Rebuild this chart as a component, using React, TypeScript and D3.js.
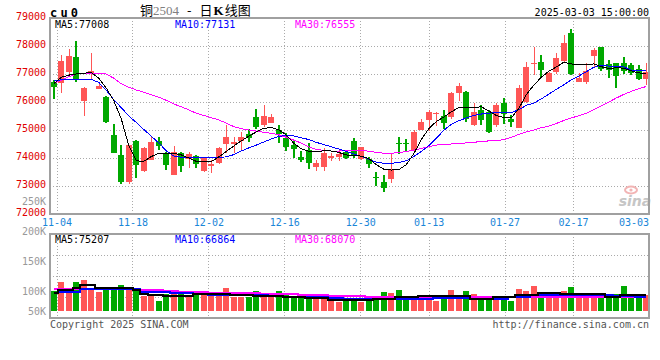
import React from "react";
import * as d3 from "d3";

// daily candles, cu0, 80 sessions ending 2025-03-03
const opens = [76730,76690,77060,77590,76050,76990,76480,76190,74820,74110,
  73150,74610,73540,73930,74610,74140,73390,74170,73950,74070,
  73550,73710,73810,74490,74490,74620,74870,75450,75170,75240,
  75000,74730,74460,74020,74290,73690,73690,74000,74050,74230,
  74610,73960,73960,73330,73150,73240,74550,74550,74290,75000,
  75360,75570,75500,75450,76310,76370,75180,75710,75660,75180,
  75980,75390,75080,76010,77370,77440,76730,77060,77460,78480,
  76730,76700,77640,77980,77360,77400,77400,77320,77170,76820];
const highs = [76790,77680,77880,78180,76520,77760,76700,76230,75210,74460,
  74230,74640,74400,74740,74760,74230,74430,74200,74230,74120,
  74000,73930,74380,75180,74760,74940,75020,75760,75890,75570,
  75180,74880,74640,74250,74550,73930,74350,74190,74290,74290,
  74730,74400,74050,73490,73390,74140,74740,74680,75000,75380,
  75710,75660,75710,76370,76690,76390,75950,75890,75710,75950,
  76130,75540,76600,77440,77980,77680,77080,77760,78390,78600,
  77020,77380,77920,77980,77500,77400,77620,77380,77320,77400];
const lows = [76100,76330,76990,76720,75500,76790,76480,75240,74190,73070,
  73070,73300,73500,73930,74290,73570,73390,73510,73630,73650,
  73500,73450,73800,74170,74190,74250,74580,75040,75120,75240,
  74520,74250,73990,73870,73610,73540,73540,73900,73890,73950,
  74000,73930,73630,73000,72770,73120,74130,74260,74230,75000,
  74960,75160,75020,75400,76040,75300,75150,75180,74900,75120,
  75200,75120,75060,75980,76960,76900,76700,77000,77400,76950,
  76700,76650,77260,77100,76850,76490,77000,76950,76800,76610];
const closes = [76520,77460,77640,76790,76500,77100,76580,75300,74190,73150,
  74450,73750,74370,74570,74430,73750,74200,73710,74140,73770,
  73990,73790,74360,74760,74560,74760,74730,75120,75500,75450,
  74860,74380,74320,73930,73830,73830,74190,74080,74140,73990,
  74080,74380,73770,73270,72920,73570,74490,74500,74940,75300,
  75660,75620,75240,76310,76580,75390,75630,75360,74940,75890,
  75560,75300,76510,77260,77410,77140,77020,77580,78120,77000,
  76870,77110,77860,77170,77140,76930,77120,77050,76830,77080];

const ma5 = [76650,76880,76960,77000,77030,77050,76850,76500,76050,75400,
  74450,73900,73880,74050,74170,74170,74170,74110,74000,73880,
  73880,73870,74040,74230,74430,74610,74780,74930,75060,75090,
  75010,74820,74530,74330,74240,74220,74260,74250,74200,74110,
  74080,74070,73980,73760,73600,73570,73580,73760,74150,74650,
  75050,75300,75460,75650,75800,75800,75800,75830,75680,75520,
  75450,75430,75760,76260,76600,76880,77100,77250,77420,77360,
  77330,77330,77360,77260,77200,77220,77210,77110,77040,77008];
const ma10 = [76760,76790,76800,76790,76800,76810,76700,76420,76080,75800,
  75500,75270,75020,74780,74540,74260,74070,74030,74020,74020,
  74020,74020,74020,74040,74120,74250,74360,74460,74570,74680,
  74770,74810,74790,74720,74660,74560,74480,74400,74320,74240,
  74150,74060,73960,73850,73810,73810,73840,73900,74050,74230,
  74440,74700,74990,75200,75330,75430,75520,75570,75600,75620,
  75630,75620,75720,75880,75960,76110,76280,76450,76610,76790,
  76930,77080,77240,77320,77280,77260,77260,77140,77110,77131];
const ma30 = [76670,76780,76900,77000,77020,77030,77030,77000,76850,76650,
  76530,76430,76350,76260,76170,76060,75930,75830,75720,75600,
  75520,75440,75360,75250,75120,75050,75000,74960,74920,74880,
  74830,74740,74640,74530,74400,74310,74270,74250,74250,74260,
  74280,74280,74240,74200,74170,74170,74190,74230,74280,74340,
  74400,74460,74490,74500,74520,74540,74560,74590,74610,74630,
  74650,74740,74840,74930,75000,75080,75140,75230,75340,75430,
  75510,75600,75720,75860,76000,76140,76270,76380,76470,76555];

// volume in thousand lots
const volumes = [95,139,99,139,147,112,91,110,110,123,
  112,103,72,72,47,84,95,84,72,84,
  91,91,84,110,67,67,67,95,84,71,
  95,75,62,64,75,64,64,48,43,47,
  62,43,71,56,91,86,99,71,71,71,
  71,47,56,99,75,95,80,60,60,67,
  67,47,104,95,119,84,84,84,95,115,
  84,67,67,67,67,80,119,75,75,79];
const volMa5 = [88,99,99,112,123,123,112,112,112,112,
  112,103,84,75,75,71,71,71,71,80,
  80,80,80,84,77,77,77,72,72,72,
  72,67,67,67,62,62,62,55,53,51,
  53,55,55,56,58,58,67,67,67,71,
  71,71,71,71,71,71,60,60,60,67,
  67,67,75,75,75,86,86,86,80,80,
  80,80,80,80,67,67,75,75,75,75];
const volMa10 = [88,91,91,91,108,108,106,106,106,106,
  106,104,91,91,91,91,88,86,86,84,
  84,79,79,79,79,79,79,79,79,72,
  72,67,67,67,67,67,67,62,61,60,
  60,58,58,58,59,60,60,60,60,60,
  60,62,62,62,62,62,60,60,60,60,
  60,67,67,67,75,75,75,75,75,75,
  75,79,79,79,79,72,72,72,67,67];
const volMa30 = [105,105,105,105,105,106,107,108,108,108,
  107,105,103,101,99,97,95,93,91,90,
  89,88,88,88,87,86,86,85,84,83,
  82,81,80,78,77,76,75,74,73,72,
  71,70,69,68,68,68,67,67,67,66,
  66,66,66,65,65,65,65,65,65,65,
  65,65,65,66,66,66,67,67,67,67,
  67,67,68,68,68,68,68,68,68,68];

const priceTicks = [79000, 78000, 77000, 76000, 75000, 74000, 73000, 72000];
const volTicks = [250000, 200000, 150000, 100000, 50000];
const dateLabels = ["11-04", "11-18", "12-02", "12-16", "12-30", "01-13", "01-27", "02-17", "03-03"];
const dateDays = [0, 10, 20, 30, 40, 49, 59, 68, 78];

const RED = "#ff5656";
const GREEN = "#00a800";
const GRID = "#aaaaaa";
const FRAME = "#a0a0a0";
const MONO = "'DejaVu Sans Mono', monospace";

export default function App() {
  const L = 50, R = 649;
  const pTop = 18, pBot = 214;
  const vTop = 234, vBot = 318, vBase = 311;

  const x = d3.scaleBand<number>().domain(d3.range(closes.length)).range([50, 650])
    .paddingInner(0.2).paddingOuter(0.1);
  const xc = (i: number) => (x(i) as number) + x.bandwidth() / 2;
  const xTick = d3.scaleLinear().domain([0, 79]).range([57, 657]);
  const y = d3.scaleLinear().domain([72000, 79000]).range([pBot, pTop]);
  const yv = d3.scaleLinear().domain([0, 150000]).range([vBase, vBase - 31.25]);
  const yvLabel = d3.scaleLinear().domain([0, 250000]).range([351, 201]);

  const priceLine = d3.line<number>().x((d, i) => xc(i)).y(d => y(d));
  const volLine = d3.line<number>().x((d, i) => xc(i)).y(d => yv(d * 1000)).curve(d3.curveStep);

  const vGrid = d3.range(1, 4).map(k => vTop + (vBot - vTop) * k / 4);

  return (
    <svg width={660} height={360} style={{ position: "absolute", left: 0, top: 0, background: "#fff" }}
      fontFamily={MONO}>
      {/* header */}
      <text x={50} y={13} fontSize={12} fontWeight="bold" letterSpacing={3.2} dominantBaseline="central">cu0</text>
      <text x={140} y={15} fontSize={13} fontFamily="'Noto Sans CJK SC', sans-serif">
        <tspan>铜</tspan>
        <tspan fill="#808080" fontFamily="'Liberation Serif', serif" fontSize={13}>2504</tspan>
        <tspan dx={8}>-</tspan>
        <tspan dx={8}>日</tspan>
        <tspan fontFamily="'Liberation Serif', serif" fontWeight="bold" dx={1}>K</tspan>
        <tspan dx={1}>线图</tspan>
      </text>
      <text x={R} y={12} fontSize={10} textAnchor="end" dominantBaseline="central">2025-03-03 15:00:00</text>

      {/* grid */}
      <g stroke={GRID} strokeDasharray="1 2" shapeRendering="crispEdges">
        {priceTicks.slice(1, -1).map(t => (
          <line key={t} x1={L} x2={R} y1={y(t)} y2={y(t)} />
        ))}
        {dateDays.map(d => (
          <line key={"p" + d} x1={xTick(d)} x2={xTick(d)} y1={pTop} y2={pBot} />
        ))}
        {vGrid.map(g => (
          <line key={"vg" + g} x1={L} x2={R} y1={g} y2={g} />
        ))}
        {dateDays.map(d => (
          <line key={"v" + d} x1={xTick(d)} x2={xTick(d)} y1={vTop} y2={vBot + 3} />
        ))}
      </g>

      {/* watermark */}
      <g>
        <ellipse cx={631} cy={190} rx={6} ry={3.5} fill="none" stroke="#f2b4b4" strokeWidth={2} />
        <circle cx={631} cy={190} r={1.6} fill="#f2b4b4" />
        <text x={635} y={201} fontSize={14} fontStyle="italic" fontWeight="bold" textAnchor="middle"
          fontFamily="'DejaVu Sans', sans-serif" fill="#c6c6c6" dominantBaseline="central">sina</text>
      </g>

      {/* candles */}
      <g shapeRendering="crispEdges">
        {closes.map((c, i) => {
          const o = opens[i];
          const up = c >= o;
          const bx = Math.round(x(i) as number);
          const top = Math.round(y(Math.max(o, c)));
          const bot = Math.round(y(Math.min(o, c)));
          const col = up ? RED : GREEN;
          return (
            <g key={i} fill={col}>
              <rect x={up ? bx + 3 : bx + 2} width={up ? 1 : 2}
                y={Math.round(y(highs[i]))} height={Math.max(1, Math.round(y(lows[i])) - Math.round(y(highs[i])))} />
              <rect x={bx} width={x.bandwidth()} y={top} height={Math.max(1, bot - top)} />
            </g>
          );
        })}
      </g>

      {/* price MAs */}
      <g fill="none" strokeWidth={1} shapeRendering="crispEdges">
        <path d={priceLine(ma30) || ""} stroke="#ff00ff" />
        <path d={priceLine(ma10) || ""} stroke="#0000ff" />
        <path d={priceLine(ma5) || ""} stroke="#000" />
      </g>

      {/* volume bars */}
      <g shapeRendering="crispEdges">
        {volumes.map((v, i) => {
          const top = Math.round(yv(v * 1000));
          return (
            <rect key={i} x={Math.round(x(i) as number)} width={x.bandwidth()} y={top}
              height={vBase - top} fill={closes[i] >= opens[i] ? RED : GREEN} />
          );
        })}
      </g>
      <g fill="none" strokeWidth={2} shapeRendering="crispEdges">
        <path d={volLine(volMa30) || ""} stroke="#ff00ff" />
        <path d={volLine(volMa10) || ""} stroke="#0000ff" />
        <path d={volLine(volMa5) || ""} stroke="#000" />
      </g>

      {/* frames */}
      <g fill="none" stroke={FRAME} strokeWidth={2}>
        <rect x={L} y={pTop} width={R - L} height={pBot - pTop} />
        <rect x={L} y={vTop} width={R - L} height={vBot - vTop} />
      </g>

      {/* axis labels */}
      <g fontSize={10} dominantBaseline="central">
        {priceTicks.map(t => (
          <text key={t} x={46} y={y(t) - 2} textAnchor="end" fill="#e00000">{t}</text>
        ))}
        {volTicks.map(t => (
          <text key={t} x={46} y={Math.min(yvLabel(t), vBase)} textAnchor="end" fill="#999">{t / 1000 + "K"}</text>
        ))}
        {dateDays.map((d, k) => (
          <text key={d} x={Math.min(xTick(d), R - 15)} y={222} textAnchor="middle" fill="#1a86d8">{dateLabels[k]}</text>
        ))}
      </g>

      {/* legends */}
      <g fontSize={10} dominantBaseline="central">
        <text x={55} y={24} fill="#000">MA5:77008</text>
        <text x={175} y={24} fill="#0000ff">MA10:77131</text>
        <text x={295} y={24} fill="#ff00ff">MA30:76555</text>
        <text x={55} y={239} fill="#000">MA5:75207</text>
        <text x={175} y={239} fill="#0000ff">MA10:66864</text>
        <text x={295} y={239} fill="#ff00ff">MA30:68070</text>
      </g>

      {/* footer */}
      <g fontSize={10} fill="#555" dominantBaseline="central">
        <text x={50} y={324}>Copyright 2025 SINA.COM</text>
        <text x={R} y={324} textAnchor="end">http://finance.sina.com.cn</text>
      </g>
    </svg>
  );
}
